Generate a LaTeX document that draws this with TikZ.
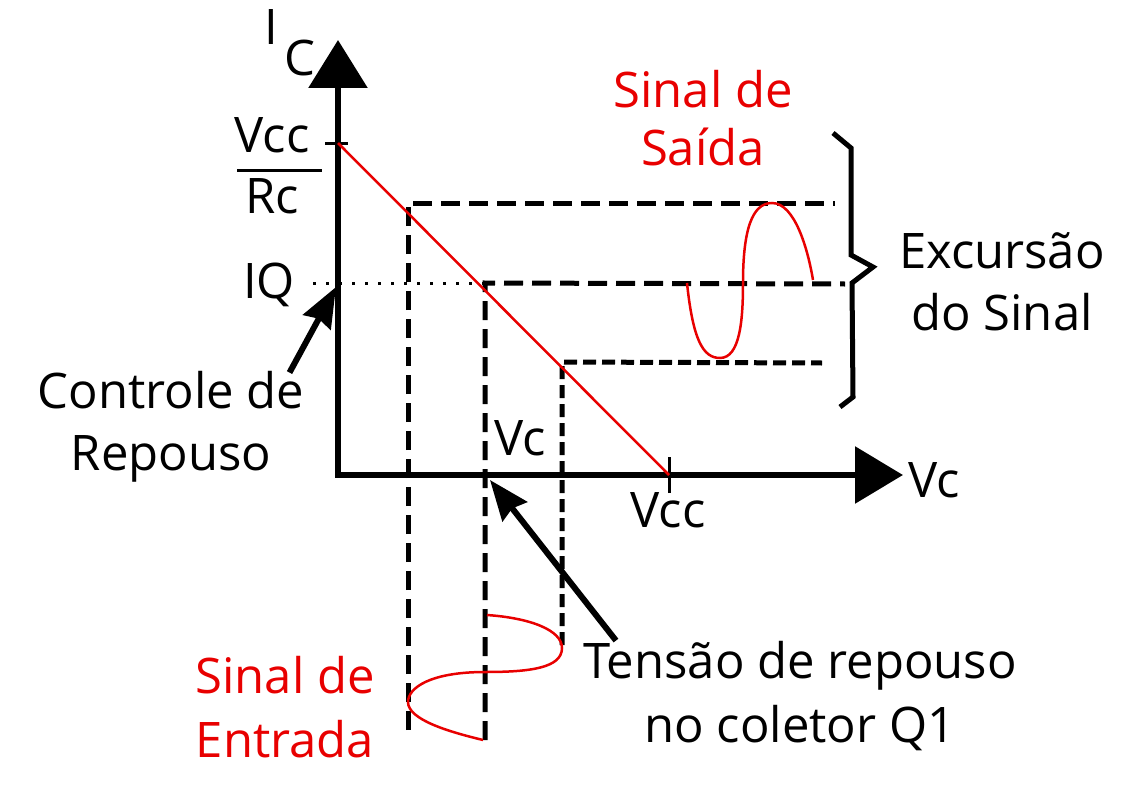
\documentclass[tikz,border=0pt]{standalone}
\usepackage{fontspec}
\setmainfont{Open Sans}
\usetikzlibrary{arrows.meta}

\definecolor{sinalred}{RGB}{232,0,0}

\tikzset{
  lbl/.style={font=\fontsize{49}{62}\selectfont, inner sep=0pt, align=center},
  redlbl/.style={lbl, text=sinalred},
  axis/.style={line width=6pt, {Triangle[length=48pt,width=58pt]}-{Triangle[length=48pt,width=56pt]}},
  level/.style={line width=5pt, dash pattern=on 19pt off 9pt},
  shortlevel/.style={line width=5pt, dash pattern=on 13pt off 6pt},
  sig/.style={sinalred, line width=2.5pt},
  pointer/.style={line width=6pt, -{Stealth[length=40pt,width=31pt,inset=4pt]}}
}

\begin{document}
\begin{tikzpicture}[x=1pt,y=-1pt]
  \useasboundingbox (0,0) rectangle (1133,792);

  % Axis points
  \coordinate (O) at (338,475);
  \coordinate (ytip) at (338,40);
  \coordinate (xtip) at (903,475);
  \coordinate (isat) at (338,143);
  \coordinate (vcut) at (669,475);
  \coordinate (qy) at (336,287);
  \coordinate (qx) at (490,480);

  % Levels of the load line
  \coordinate (top) at (408,203);
  \coordinate (mid) at (485,283);
  \coordinate (low) at (562,362);

  % Axes and ticks
  \draw[axis] (ytip) -- (O) -- (xtip);
  \draw[line width=3pt] ([xshift=-13pt]isat) -- ([xshift=10pt]isat);
  \draw[line width=3pt] ([yshift=-18pt]vcut) -- ([yshift=18pt]vcut);

  % Axis labels
  \node[lbl, anchor=base] (ilbl) at (271,45) {I};
  \node[lbl, anchor=base] (clbl) at (300,75) {C};
  \node[lbl, anchor=base] (vccy) at (272,152) {Vcc};
  \node[lbl, anchor=base] (rc) at (272,213) {Rc};
  \draw[line width=3pt] (237,170) -- (322,170);
  \node[lbl, anchor=base] (iq) at (269,298) {IQ};
  \node[lbl, anchor=base] (vcup) at (520,455) {Vc};
  \node[lbl, anchor=base] (vccx) at (668,527) {Vcc};
  \node[lbl, anchor=base] (vcx) at (934,497) {Vc};

  % Quiescent current (dotted)
  \draw[line width=3pt, dash pattern=on 3pt off 10pt] (313,283) -- (mid);

  % Dashed projections
  \draw[level] (408,730) -- (top) -- (835,203);
  \draw[level] (485,740) -- (mid) -- (845,284);
  \draw[shortlevel] (562,645) -- (low) -- (822,363);

  % Load line
  \draw[sinalred, line width=2.5pt] (isat) -- (vcut);

  % Input signal
  \draw[sig] (487,615) .. controls (530,618) and (562,630) .. (562,648)
    .. controls (562,668) and (530,672) .. (485,672)
    .. controls (430,672) and (408,688) .. (408,702)
    .. controls (408,720) and (450,732) .. (483,740);
  % Output signal
  \draw[sig] (687,283) .. controls (693,340) and (703,358) .. (720,358)
    .. controls (740,358) and (743,320) .. (743,283)
    .. controls (743,230) and (752,203) .. (772,203)
    .. controls (795,203) and (808,250) .. (813,280);

  % Brace of the swing
  \draw[line width=5pt, line join=miter] (833,133) -- (851,148) -- (851,255) -- (873,267)
    -- (852,283) -- (853,397) -- (840,407);

  % Texts (base = last line)
  \node[redlbl, anchor=base, font=\fontsize{49}{58}\selectfont] (saida) at (703,165) {Sinal de\\Saída};
  \node[lbl, anchor=base] (excursao) at (1002,330) {Excursão\\do Sinal};
  \node[lbl, anchor=base] (ctrl) at (171,470) {Controle de\\Repouso};
  \node[redlbl, anchor=base, font=\fontsize{49}{64}\selectfont] (entrada) at (285,757) {Sinal de\\Entrada};
  \node[lbl, anchor=base, font=\fontsize{49}{64}\selectfont] (tensao) at (800,742) {Tensão de repouso\\no coletor Q1};

  % Pointers
  \draw[pointer] ([xshift=-15pt,yshift=-2pt]ctrl.north east) -- (qy);
  \draw[pointer] ([xshift=33pt]tensao.north west) -- (qx);
\end{tikzpicture}
\end{document}
